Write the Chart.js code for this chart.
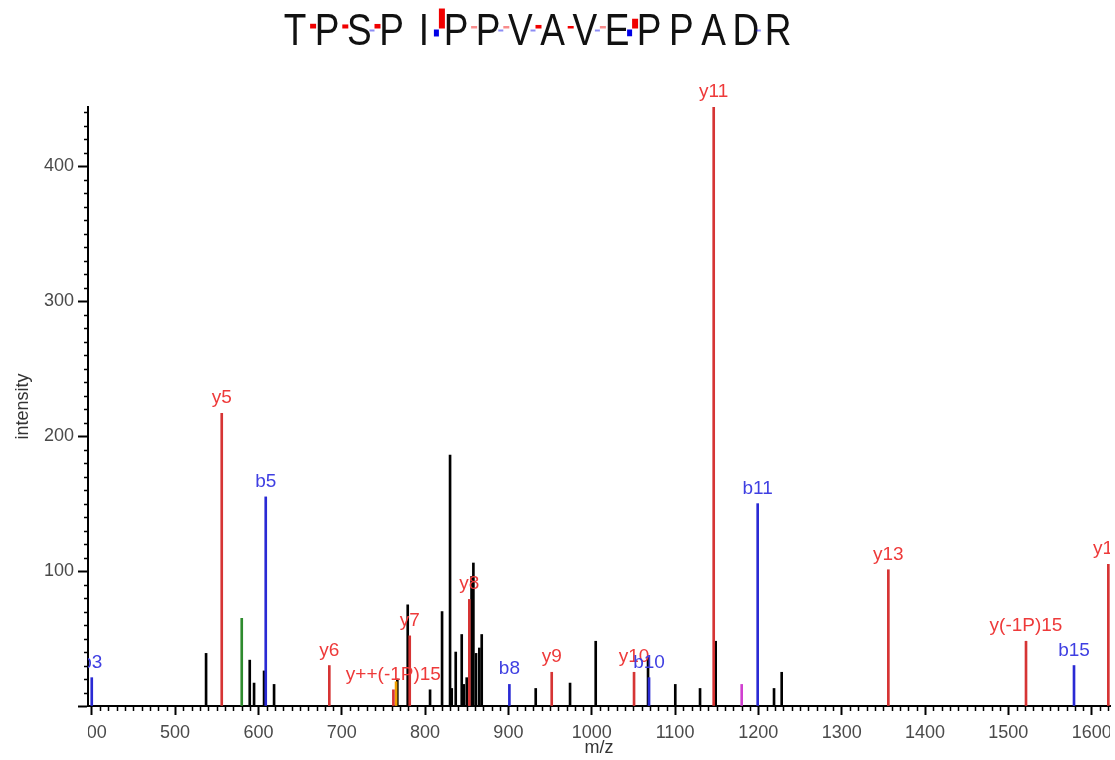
<!DOCTYPE html>
<html>
<head>
<meta charset="utf-8">
<script src="https://cdn.jsdelivr.net/npm/chart.js@4.4.1/dist/chart.umd.min.js"></script>
<style>
  html, body { margin: 0; padding: 0; background: #fff; }
  #wrap { width: 1115px; height: 760px; }
</style>
</head>
<body>
<div id="wrap"><canvas id="myChart" width="1115" height="760"></canvas></div>
<script>
// peptide shown on top
const sequence = ['T', 'P', 'S', 'P', 'I', 'P', 'P', 'V', 'A', 'V', 'E', 'P', 'P', 'A', 'D', 'R'];
// coverage marks in the title: [cleavage after residue n, intensity]
const seqBIons = [[3, 21], [5, 155], [7, 20], [8, 16], [10, 21], [11, 150], [15, 30]];
const seqYIons = [[1, 105], [2, 90], [3, 101], [5, 444], [6, 25], [7, 25], [8, 79], [9, 52], [10, 30], [11, 217]];

// y ions (red)
const yIonMz = [556.0, 685.1, 762.0, 781.6, 853.1, 952.0, 1050.8, 1146.4, 1356.0, 1521.2, 1620.0];
const yIonInt = [217, 30, 12, 52, 79, 25, 25, 444, 101, 48, 105];
const yIonLabels = ['y5', 'y6', 'y++(-1P)15', 'y7', 'y8', 'y9', 'y10', 'y11', 'y13', 'y(-1P)15', 'y15'];

// b ions (blue)
const bIonMz = [400.0, 608.8, 901.2, 1068.8, 1199.2, 1578.8];
const bIonInt = [21, 155, 16, 21, 150, 30];
const bIonLabels = ['b3', 'b5', 'b8', 'b10', 'b11', 'b15'];

// other matched peaks
const greenMz = [580.0], greenInt = [65];
const orangeMz = [765.2], orangeInt = [18];
const magentaMz = [1180.0], magentaInt = [16];

// unassigned peaks (black)
const otherMz = [537.2, 589.6, 594.8, 606.8, 618.8, 766.7, 779.2, 806.0, 820.4, 830.0, 832.0, 836.8, 844.0,
  846.4, 850.0, 855.8, 858.0, 861.2, 865.1, 868.0, 932.8, 974.0, 1004.8, 1067.6, 1100.3, 1130.0, 1148.8,
  1218.8, 1228.0];
const otherInt = [39, 34, 17, 26, 16, 20, 75, 12, 70, 186, 13, 40, 53,
  16, 21, 96, 106, 39, 43, 53, 13, 17, 48, 36, 16, 13, 48,
  13, 25];

const xTicks = [400, 500, 600, 700, 800, 900, 1000, 1100, 1200, 1300, 1400, 1500, 1600];

const FONT = '"Liberation Sans", Arial, Helvetica, sans-serif';

function pts(mz, ints) {
  return mz.map((m, i) => ({ x: m, y: ints[i] }));
}

function stick(data, color, extra) {
  return Object.assign({
    data: data,
    backgroundColor: color,
    borderWidth: 0,
    barThickness: 2,
    grouped: false
  }, extra || {});
}

const decor = {
  id: 'decor',
  afterDraw(chart) {
    const { ctx, chartArea: area, scales: { x, y } } = chart;
    ctx.save();

    // minor ticks
    ctx.strokeStyle = '#000';
    ctx.lineWidth = 1.5;
    ctx.beginPath();
    for (let v = Math.ceil(x.min / 10) * 10; v <= x.max; v += 10) {
      if (v % 100 === 0) continue;
      const px = Math.round(x.getPixelForValue(v)) + 0.5;
      ctx.moveTo(px, area.bottom);
      ctx.lineTo(px, area.bottom + 5);
    }
    for (let v = 10; v <= y.max; v += 10) {
      if (v % 100 === 0) continue;
      const py = Math.round(y.getPixelForValue(v)) + 0.5;
      ctx.moveTo(area.left, py);
      ctx.lineTo(area.left - 4, py);
    }
    ctx.stroke();

    // x labels and peak labels are cut at the plot edges, as in the original
    ctx.save();
    ctx.beginPath();
    ctx.rect(area.left, 0, area.right - area.left, chart.height);
    ctx.clip();

    ctx.font = '18px ' + FONT;
    ctx.fillStyle = '#4a4a4a';
    ctx.textAlign = 'center';
    ctx.textBaseline = 'alphabetic';
    xTicks.forEach(v => ctx.fillText(String(v), x.getPixelForValue(v), 738));

    ctx.font = '19px ' + FONT;
    chart.data.datasets.forEach((ds, i) => {
      if (!ds.peakLabels) return;
      const meta = chart.getDatasetMeta(i);
      ctx.fillStyle = ds.labelColor;
      meta.data.forEach((el, j) => {
        ctx.fillText(ds.peakLabels[j], el.x, el.y - 10);
      });
    });
    ctx.restore();

    // sequence title
    const step = 32.2, x0 = 295;
    const cx = sequence.map((_, i) => x0 + i * step);
    ctx.fillStyle = '#111';
    ctx.font = '37px ' + FONT;
    ctx.textAlign = 'center';
    sequence.forEach((aa, i) => {
      ctx.save();
      ctx.translate(cx[i], 45);
      ctx.scale(1, 1.18);
      ctx.fillText(aa, 0, 0);
      ctx.restore();
    });
    seqYIons.forEach(([n, v]) => {
      const mid = (cx[n - 1] + cx[n]) / 2;
      const h = Math.max(2.5, v * 0.045);
      ctx.fillStyle = v < 35 ? 'rgba(240,0,0,0.45)' : 'rgb(240,0,0)';
      ctx.fillRect(mid - 1, 28.5 - h, 6, h);
    });
    seqBIons.forEach(([n, v]) => {
      const mid = (cx[n - 1] + cx[n]) / 2;
      const h = Math.max(2, v * 0.045);
      ctx.fillStyle = v < 35 ? 'rgba(0,0,230,0.45)' : 'rgb(0,0,230)';
      ctx.fillRect(mid - 6, 29.5, 5, h);
    });

    ctx.restore();
  }
};

const ctx = document.getElementById('myChart').getContext('2d');

new Chart(ctx, {
  type: 'bar',
  data: {
    datasets: [
      stick(pts(yIonMz, yIonInt), '#d63434', { peakLabels: yIonLabels, labelColor: '#ee3a3a' }),
      stick(pts(bIonMz, bIonInt), '#2a2ad4', { peakLabels: bIonLabels, labelColor: '#3f3fe2' }),
      stick(pts(greenMz, greenInt), '#2e8b2e'),
      stick(pts(orangeMz, orangeInt), '#f0a000'),
      stick(pts(magentaMz, magentaInt), '#d040d0'),
      stick(pts(otherMz, otherInt), '#000000')
    ]
  },
  options: {
    responsive: false,
    animation: false,
    layout: { padding: { top: 107, right: 5, left: 0, bottom: 0 } },
    plugins: {
      legend: { display: false },
      tooltip: { enabled: false }
    },
    scales: {
      x: {
        type: 'linear',
        min: 395.5,
        max: 1622,
        offset: false,
        grid: { display: true, offset: false, drawOnChartArea: false, drawTicks: true, tickLength: 9, tickWidth: 2, tickColor: '#000' },
        border: { display: true, color: '#000', width: 2 },
        ticks: { display: false, stepSize: 100, includeBounds: false },
        title: { display: true, text: 'm/z', color: '#333', font: { family: FONT, size: 18 }, padding: { top: 0, bottom: 1 } },
        afterFit: s => { s.height = 54; }
      },
      y: {
        min: 0,
        max: 444,
        grid: { display: true, drawOnChartArea: false, drawTicks: true, tickLength: 10, tickWidth: 2, tickColor: '#000' },
        border: { display: true, color: '#000', width: 2 },
        ticks: {
          stepSize: 100,
          includeBounds: false,
          padding: 4,
          color: '#4a4a4a',
          font: { family: FONT, size: 18 },
          callback: v => (v === 0 ? '' : v)
        },
        title: { display: true, text: 'intensity', color: '#333', font: { family: FONT, size: 18 }, padding: { top: 12, bottom: 0 } },
        afterFit: s => { s.width = 88; }
      }
    }
  },
  plugins: [decor]
});
</script>
</body>
</html>
